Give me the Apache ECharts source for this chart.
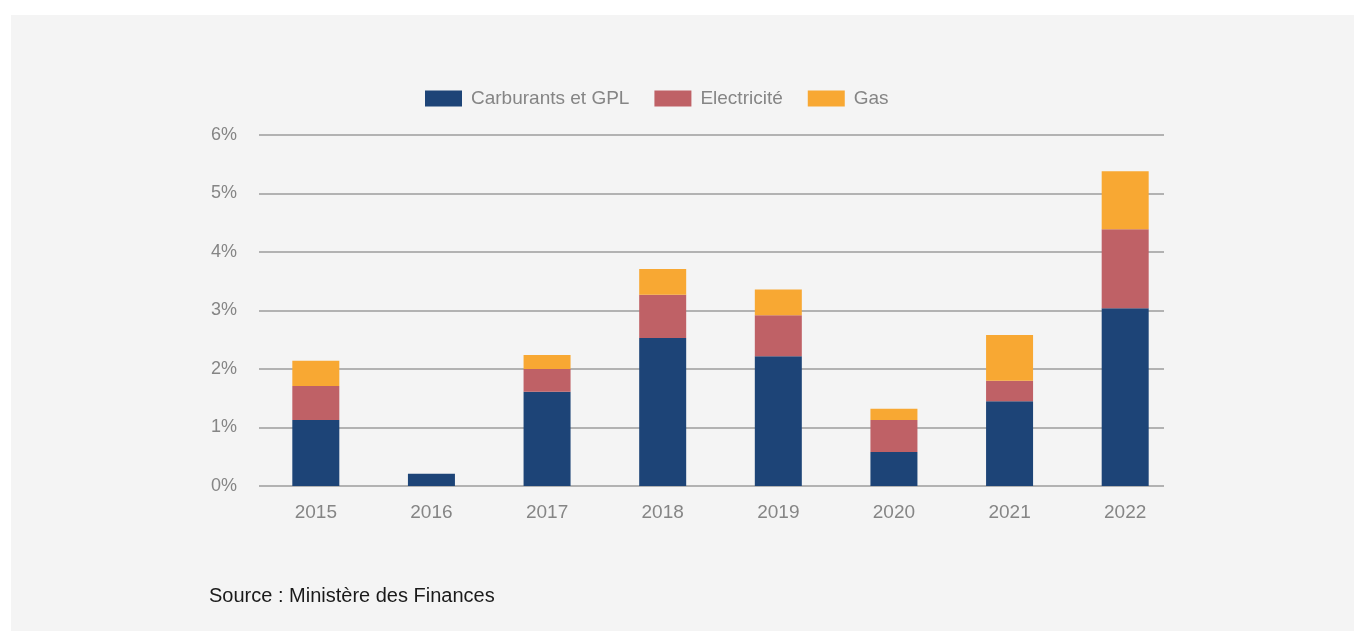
<!DOCTYPE html>
<html>
<head>
<meta charset="utf-8">
<script src="https://cdn.jsdelivr.net/npm/echarts@6/dist/echarts.min.js"></script>
<style>
  html, body { margin: 0; padding: 0; background: #ffffff; }
  #chart { position: absolute; left: 11px; top: 15px; width: 1343px; height: 616px; }
</style>
</head>
<body>
<div id="chart"></div>
<script>
// données (en %)
const years = ["2015", "2016", "2017", "2018", "2019", "2020", "2021", "2022"];
const carburants = [1.13, 0.21, 1.61, 2.53, 2.22, 0.58, 1.45, 3.04];
const electricite = [0.58, 0, 0.39, 0.74, 0.70, 0.55, 0.35, 1.35];
const gas = [0.43, 0, 0.24, 0.44, 0.44, 0.19, 0.78, 0.99];
const yTicks = [0, 1, 2, 3, 4, 5, 6];

const chart = echarts.init(document.getElementById("chart"));

const grey = "#858585";
const font = "Liberation Sans";

const options = {
  backgroundColor: "#f4f4f4",
  animation: false,
  textStyle: { fontFamily: font },
  legend: {
    left: 414,
    top: 74,
    padding: 0,
    itemWidth: 37,
    itemHeight: 16,
    itemGap: 25,
    icon: "rect",
    textStyle: { color: grey, fontSize: 19, fontFamily: font, padding: [0, 0, 0, 4] },
    data: ["Carburants et GPL", "Electricité", "Gas"],
  },
  // grille 0 : lignes horizontales et étiquettes %, grille 1 : barres
  grid: [
    { left: 248, width: 905, top: 120, height: 351 },
    { left: 247, width: 925, top: 120, height: 351 },
  ],
  xAxis: [
    { gridIndex: 0, type: "category", data: years, show: false },
    {
      gridIndex: 1,
      type: "category",
      data: years,
      axisLine: { show: false },
      axisTick: { show: false },
      axisLabel: { color: grey, fontSize: 19, margin: 17, fontFamily: font },
    },
  ],
  yAxis: [
    {
      gridIndex: 0,
      type: "value",
      min: yTicks[0],
      max: yTicks[yTicks.length - 1],
      interval: 1,
      axisLine: { show: false },
      axisTick: { show: false },
      axisLabel: {
        color: grey,
        fontSize: 18,
        margin: 22,
        fontFamily: font,
        formatter: (v) => v + "%",
      },
      splitLine: { lineStyle: { color: "#9c9c9c", width: 1.5 } },
    },
    {
      gridIndex: 1,
      type: "value",
      min: yTicks[0],
      max: yTicks[yTicks.length - 1],
      interval: 1,
      show: false,
      splitLine: { show: false },
    },
  ],
  series: [
    {
      name: "Carburants et GPL",
      type: "bar",
      stack: "total",
      xAxisIndex: 1,
      yAxisIndex: 1,
      barWidth: 47,
      itemStyle: { color: "#1d4477" },
      data: carburants,
    },
    {
      name: "Electricité",
      type: "bar",
      stack: "total",
      xAxisIndex: 1,
      yAxisIndex: 1,
      barWidth: 47,
      itemStyle: { color: "#bf6166" },
      data: electricite,
    },
    {
      name: "Gas",
      type: "bar",
      stack: "total",
      xAxisIndex: 1,
      yAxisIndex: 1,
      barWidth: 47,
      itemStyle: { color: "#f8a833" },
      data: gas,
    },
  ],
  graphic: [
    {
      type: "text",
      left: 198,
      top: 571,
      style: {
        text: "Source : Ministère des Finances",
        fill: "#1a1a1a",
        fontSize: 20,
        fontFamily: font,
      },
    },
  ],
};

chart.setOption(options);
</script>
</body>
</html>
